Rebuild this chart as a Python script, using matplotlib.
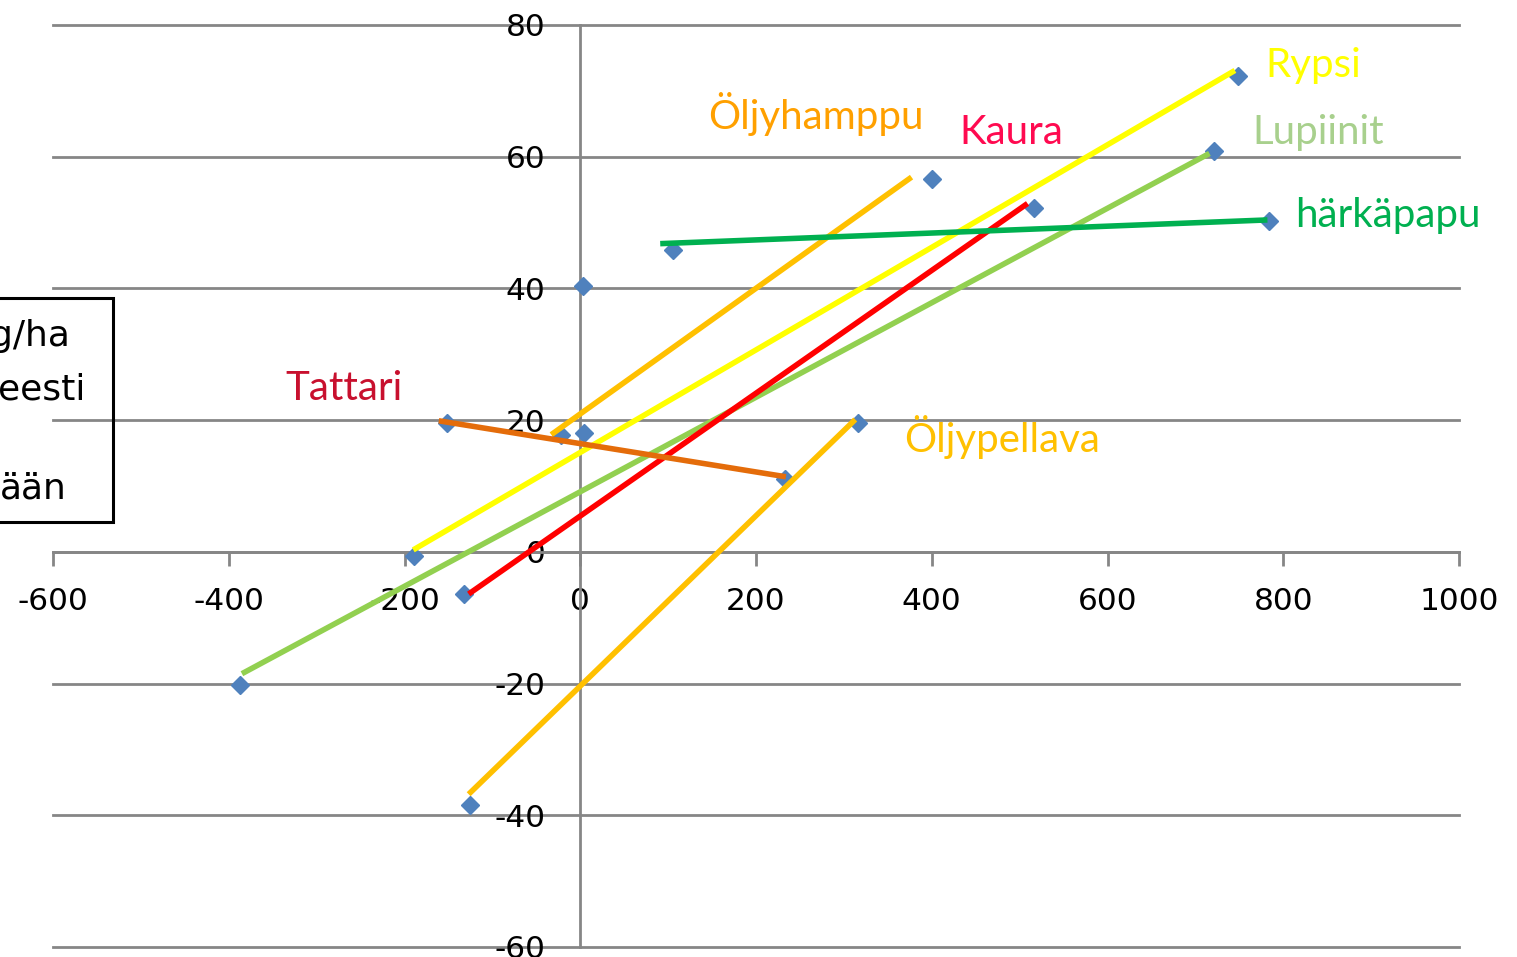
import matplotlib.pyplot as plt
from matplotlib.patches import Rectangle

plt.rcParams['axes.unicode_minus'] = False

# scatter points (blue diamonds)
point_x = [-387, -189, -132, -126, -152, -22, 4, 3, 106, 233, 316, 400, 516, 721, 749, 784]
point_y = [-20.2, -0.6, -6.4, -38.4, 19.6, 17.8, 18.0, 40.3, 45.9, 11.1, 19.6, 56.6, 52.2, 60.8, 72.2, 50.2]

# lines drawn between pairs of points: name, start, end, colour
line_names = ['Rypsi', 'Lupiinit', 'Kaura', 'Öljyhamppu', 'Öljypellava', 'härkäpapu', 'Tattari']
line_x0 = [-190, -385, -127, -33, -127, 91, -161]
line_y0 = [0.3, -18.5, -6.4, 17.8, -36.8, 46.8, 19.9]
line_x1 = [745, 716, 509, 377, 313, 782, 234]
line_y1 = [73.1, 60.5, 52.9, 56.9, 20.1, 50.4, 11.4]
line_colors = ['#FFFF00', '#92D050', '#FF0000', '#FFC000', '#FFC000', '#00B050', '#E46C0A']

# text labels
label_text = ['Öljyhamppu', 'Kaura', 'Tattari', 'Öljypellava', 'Rypsi', 'Lupiinit', 'härkäpapu']
label_x = [145, 431, -336, 368, 780, 765, 814]
label_y = [64.2, 61.9, 23.0, 15.1, 72.1, 61.9, 49.4]
label_colors = ['#FFA000', '#FF0A50', '#C8102E', '#FFC000', '#FFFF00', '#A8D08D', '#00B050']

xticks = [-600, -400, -200, 0, 200, 400, 600, 800, 1000]
yticks = [-60, -40, -20, 0, 20, 40, 60, 80]

W, H = 1517, 957
fig = plt.figure(figsize=(W / 100, H / 100), dpi=100)
ax = fig.add_axes([53 / W, 10 / H, 1406 / W, 922 / H])

grey = '#868686'
ax.set_xlim(-600, 1000)
ax.set_ylim(-60, 80)
ax.set_xticks(xticks)
ax.set_yticks(yticks)
ax.spines['left'].set_position(('data', 0))
ax.spines['bottom'].set_position(('data', 0))
ax.spines['top'].set_visible(False)
ax.spines['right'].set_visible(False)
for s in ['left', 'bottom']:
    ax.spines[s].set_color(grey)
    ax.spines[s].set_linewidth(2)
ax.yaxis.grid(True, color=grey, linewidth=2)
for gl in ax.get_ygridlines():
    gl.set_clip_on(False)
ax.set_axisbelow(True)
ax.tick_params(axis='x', direction='out', length=10, width=2, color=grey,
               pad=15, labelsize=22.5, labelcolor='black')
ax.tick_params(axis='y', length=0, pad=25, labelsize=22.5, labelcolor='black')
for lab in ax.get_xticklabels() + ax.get_yticklabels():
    lab.set_family('DejaVu Sans')

ax.plot(point_x, point_y, linestyle='none', marker='D', markersize=9,
        color='#4F81BD', zorder=3, clip_on=False)

for i in range(len(line_names)):
    ax.plot([line_x0[i], line_x1[i]], [line_y0[i], line_y1[i]],
            color=line_colors[i], linewidth=4, solid_capstyle='butt', zorder=4)

for i in range(len(label_text)):
    ax.text(label_x[i], label_y[i], label_text[i], color=label_colors[i],
            fontsize=29, family='Lato', ha='left', va='baseline', zorder=5)

# text box cut off at the left edge
box = Rectangle((-60 / W, 1 - 522 / H), (113 + 60) / W, (522 - 298) / H,
                transform=fig.transFigure, fill=False, edgecolor='black',
                linewidth=2.2, zorder=6)
fig.patches.append(box)
box_text = ['g/ha', 'eesti', 'ään']
box_text_x = [70, 85, 67]
box_text_y = [346, 399, 498]
for t, x, y in zip(box_text, box_text_x, box_text_y):
    fig.text(x / W, 1 - y / H, t, fontsize=26, family='DejaVu Sans',
             ha='right', va='baseline', color='black')

fig.savefig('out.png', dpi=100)
